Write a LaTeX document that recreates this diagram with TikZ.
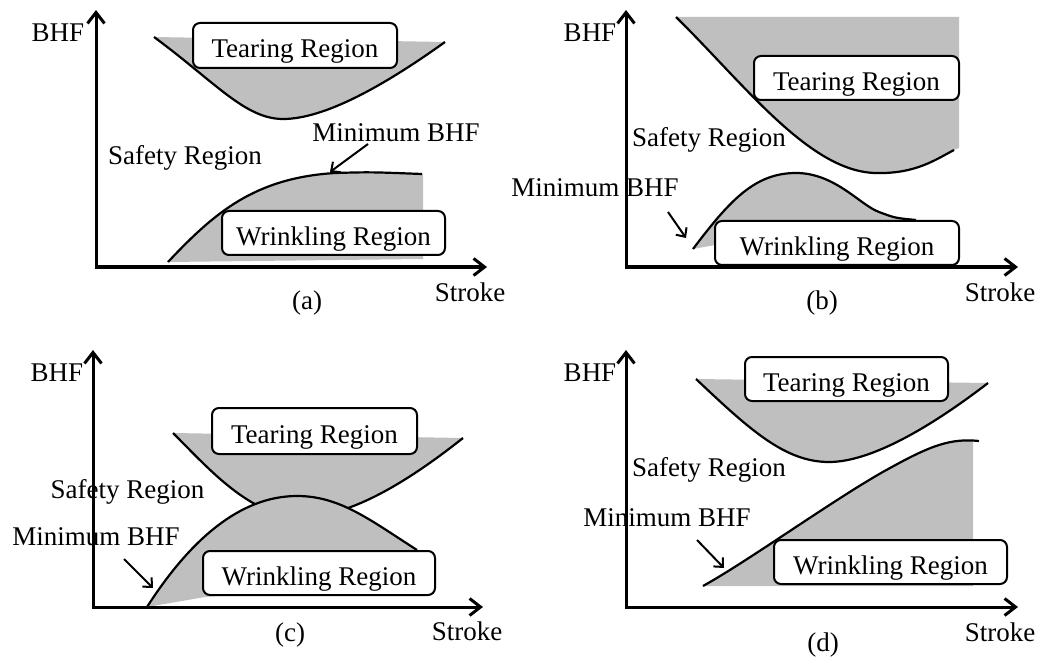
\documentclass[tikz,border=0pt]{standalone}
\usepackage{fontspec}
\setmainfont{Liberation Serif}
\usetikzlibrary{arrows.meta}
\newcommand{\lowtext}[1]{\raisebox{-6pt}[\height][\depth]{#1}}
\begin{document}
\begin{tikzpicture}[x=1pt,y=-1pt,
  lbl/.style={inner sep=0pt, font=\fontsize{27}{30}\selectfont},
  regbox/.style={draw, line width=2pt, rounded corners=7pt, fill=white, inner sep=0pt, font=\fontsize{27}{30}\selectfont},
  axis/.style={line width=3pt, line join=miter, {Straight Barb[length=11pt,width=17pt]}-{Straight Barb[length=11pt,width=17pt]}},
  bound/.style={line width=2.2pt},
  ptr/.style={line width=2pt, -{Straight Barb[length=7pt,width=13pt]}},
  zone/.style={fill=black!25}]
\useasboundingbox (0,0) rectangle (1046,660);

% ================= (a) =================
\fill[zone] (154,37) .. controls (215,82) and (245,119) .. (283,119) .. controls (325,119) and (385,85) .. (445,42) -- cycle;
\draw[bound] (154,37) .. controls (215,82) and (245,119) .. (283,119) .. controls (325,119) and (385,85) .. (445,42);
\fill[zone] (168,262) .. controls (215,212) and (255,178) .. (335,173) .. controls (370,172) .. (423,174) -- (423,259) -- cycle;
\draw[bound] (168,262) .. controls (215,212) and (255,178) .. (335,173) .. controls (370,172) .. (422,174);
\node[regbox, minimum width=204pt, minimum height=45pt] (a-tear) at (295,45.5) {\lowtext{Tearing Region}};
\node[regbox, minimum width=223pt, minimum height=44pt] (a-wrin) at (333.5,233) {\lowtext{Wrinkling Region}};
\node[lbl] (a-bhf) at (58,33) {BHF};
\node[lbl] (a-stroke) at (470,292) {Stroke};
\node[lbl] (a-cap) at (307,303) {(a)};
\node[lbl] (a-safe) at (185,158) {Safety Region};
\node[lbl] (a-min) at (396,133) {Minimum BHF};
\coordinate (a-p1) at (368,144);
\coordinate (a-p2) at (330,172);
\draw[ptr] (a-p1) -- (a-p2);
\coordinate (a-y) at (96,10);
\coordinate (a-o) at (96,267);
\coordinate (a-x) at (487,267);
\draw[axis] (a-y) -- (a-o) -- (a-x);

% ================= (b) =================
\fill[zone] (676,17) .. controls (745,85) and (810,172) .. (876,173) .. controls (915,174) and (935,160) .. (954,150) -- (959,148) -- (959,17) -- cycle;
\draw[bound] (676,17) .. controls (745,85) and (810,172) .. (876,173) .. controls (915,174) and (935,160) .. (954,150);
\fill[zone] (693,249) .. controls (730,200) and (755,173) .. (796,173) .. controls (835,173) and (860,205) .. (879,212) .. controls (895,218) .. (916,220) -- (916,235) -- (715,245) -- cycle;
\draw[bound] (693,249) .. controls (730,200) and (755,173) .. (796,173) .. controls (835,173) and (860,205) .. (879,212) .. controls (895,218) .. (916,220);
\node[regbox, minimum width=205pt, minimum height=44pt] (b-tear) at (856.5,78) {\lowtext{Tearing Region}};
\node[regbox, minimum width=244pt, minimum height=44pt] (b-wrin) at (837,243) {\lowtext{Wrinkling Region}};
\node[lbl] (b-bhf) at (590,33) {BHF};
\node[lbl] (b-stroke) at (1000,292) {Stroke};
\node[lbl] (b-cap) at (822,303) {(b)};
\node[lbl] (b-safe) at (709,140) {Safety Region};
\node[lbl] (b-min) at (595,188) {Minimum BHF};
\coordinate (b-p1) at (668,212);
\coordinate (b-p2) at (686,238);
\draw[ptr] (b-p1) -- (b-p2);
\coordinate (b-y) at (626,10);
\coordinate (b-o) at (626,267);
\coordinate (b-x) at (1018,267);
\draw[axis] (b-y) -- (b-o) -- (b-x);

% ================= (c) =================
\fill[zone] (173,433) .. controls (210,470) and (250,516) .. (300,517) .. controls (350,518) and (410,480) .. (463,438) -- cycle;
\draw[bound] (173,433) .. controls (210,470) and (250,516) .. (300,517) .. controls (350,518) and (410,480) .. (463,438);
\fill[zone] (147,607) .. controls (190,540) and (240,496) .. (297,496) .. controls (340,496) and (370,520) .. (417,550) -- (417,580) -- (205,597) -- cycle;
\draw[bound] (147,607) .. controls (190,540) and (240,496) .. (297,496) .. controls (340,496) and (370,520) .. (417,550);
\node[regbox, minimum width=205pt, minimum height=46pt] (c-tear) at (314.5,431) {\lowtext{Tearing Region}};
\node[regbox, minimum width=232pt, minimum height=44pt] (c-wrin) at (319,573) {\lowtext{Wrinkling Region}};
\node[lbl] (c-bhf) at (57,373) {BHF};
\node[lbl] (c-stroke) at (467,631) {Stroke};
\node[lbl] (c-cap) at (290,635) {(c)};
\node[lbl] (c-safe) at (127.5,492) {Safety Region};
\node[lbl] (c-min) at (96,537) {Minimum BHF};
\coordinate (c-p1) at (124,559);
\coordinate (c-p2) at (153,588);
\draw[ptr] (c-p1) -- (c-p2);
\coordinate (c-y) at (93,350);
\coordinate (c-o) at (93,607);
\coordinate (c-x) at (483,607);
\draw[axis] (c-y) -- (c-o) -- (c-x);

% ================= (d) =================
\fill[zone] (696,379) .. controls (750,430) and (785,462) .. (829,462) .. controls (875,462) and (940,420) .. (988,383) -- cycle;
\draw[bound] (696,379) .. controls (750,430) and (785,462) .. (829,462) .. controls (875,462) and (940,420) .. (988,383);
\begin{scope}
\clip (600,400) rectangle (973,600);
\fill[zone] (703,586) .. controls (750,560) and (840,495) .. (890,468) .. controls (930,446) and (950,438) .. (979,441) -- (979,586) -- cycle;
\end{scope}
\draw[bound] (703,586) .. controls (750,560) and (840,495) .. (890,468) .. controls (930,446) and (950,438) .. (979,441);
\node[regbox, minimum width=203pt, minimum height=44pt] (d-tear) at (846.5,379) {\lowtext{Tearing Region}};
\node[regbox, minimum width=233pt, minimum height=44pt] (d-wrin) at (890.5,562) {\lowtext{Wrinkling Region}};
\node[lbl] (d-bhf) at (590,373) {BHF};
\node[lbl] (d-stroke) at (1000,632) {Stroke};
\node[lbl] (d-cap) at (823,645) {(d)};
\node[lbl] (d-safe) at (709,470) {Safety Region};
\node[lbl] (d-min) at (667,518) {Minimum BHF};
\coordinate (d-p1) at (697,540);
\coordinate (d-p2) at (724,568);
\draw[ptr] (d-p1) -- (d-p2);
\coordinate (d-y) at (626,350);
\coordinate (d-o) at (626,607);
\coordinate (d-x) at (1018,607);
\draw[axis] (d-y) -- (d-o) -- (d-x);
\end{tikzpicture}
\end{document}
